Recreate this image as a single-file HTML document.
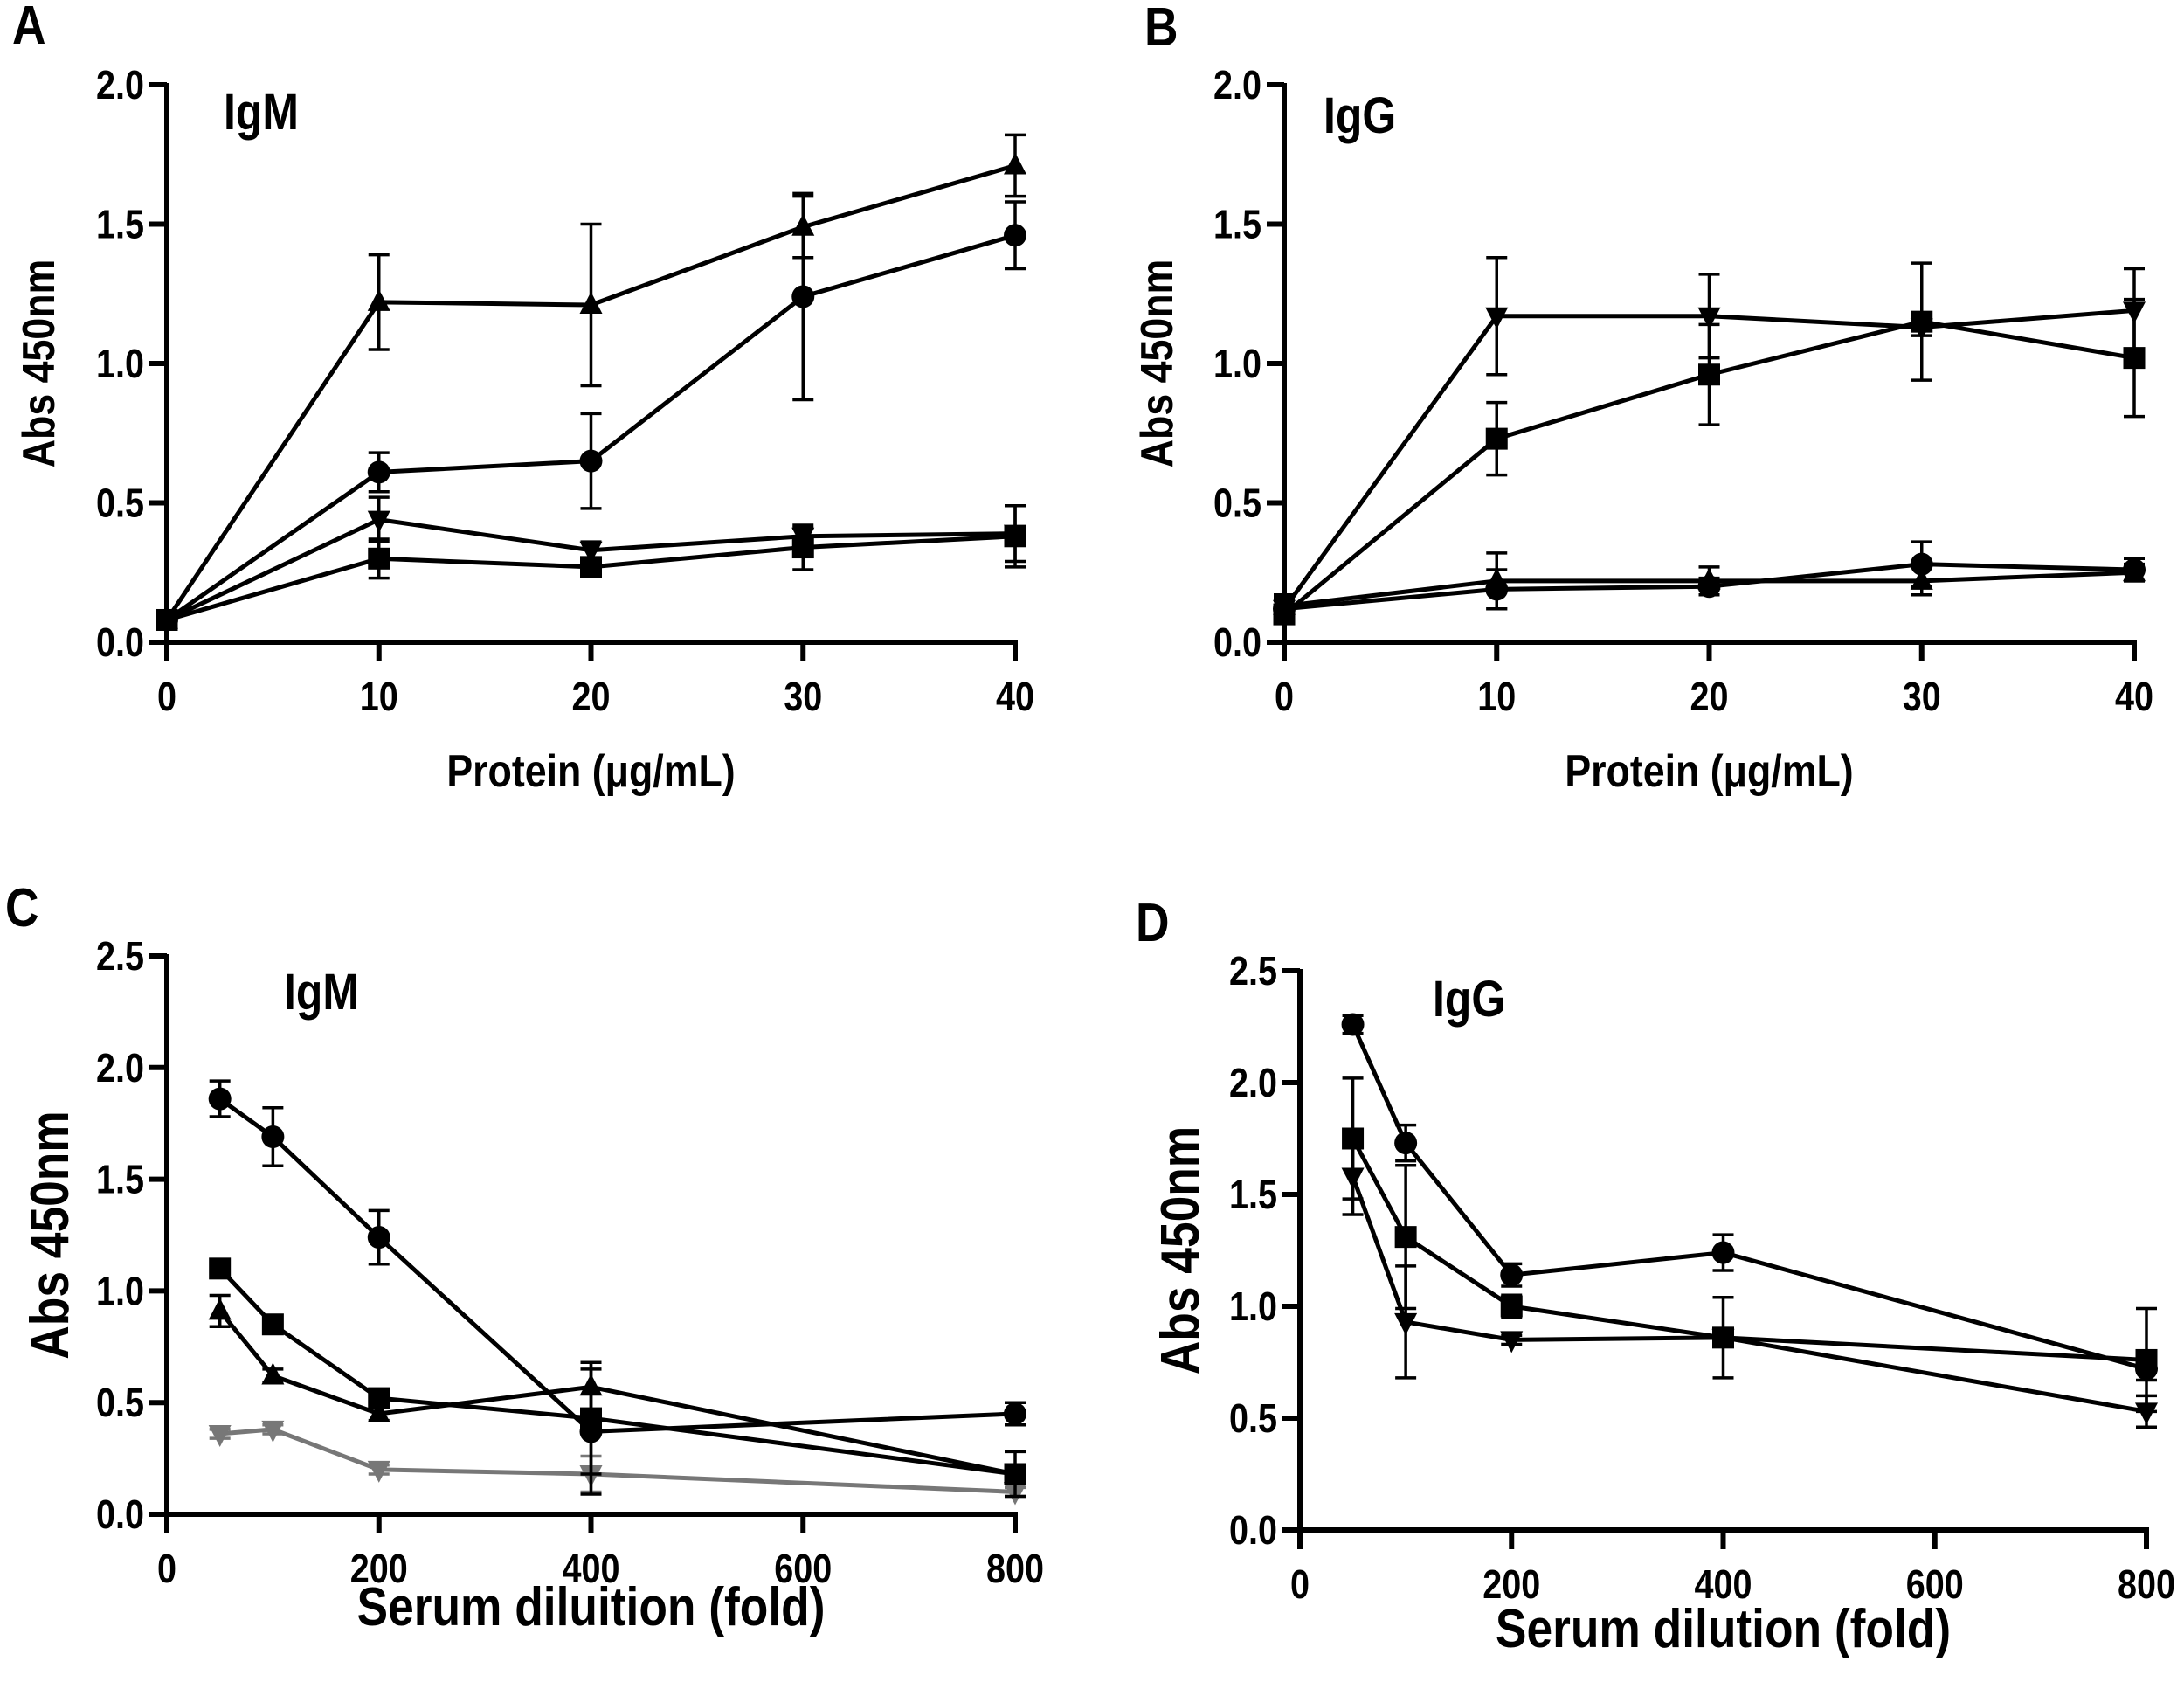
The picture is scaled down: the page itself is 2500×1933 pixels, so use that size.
<!DOCTYPE html>
<html><head><meta charset="utf-8"><style>
html,body{margin:0;padding:0;background:#fff}
svg{display:block}
text{font-family:"Liberation Sans",Arial,sans-serif;font-weight:bold;fill:#000}
</style></head><body>
<svg id="fig" width="2500" height="1933" viewBox="0 0 2500 1933" xmlns="http://www.w3.org/2000/svg"></svg>
<script>
// Panel A data (IgM, protein)
const xA = [0,10,20,30,40];
const aTriUp = [0.08,1.22,1.21,1.49,1.71];
const aTriUpErr = [0.02,0.17,0.29,0.11,0.11];
const aCircle = [0.08,0.61,0.65,1.24,1.46];
const aCircleErr = [0.02,0.07,0.17,0.37,0.12];
const aTriDown = [0.08,0.44,0.33,0.38,0.39];
const aTriDownErr = [0.02,0.08,0.03,0.03,0.10];
const aSquare = [0.08,0.30,0.27,0.34,0.38];
const aSquareErr = [0.02,0.07,0.03,0.08,0.11];
// Panel B data (IgG, protein)
const xB = [0,10,20,30,40];
const bTriDown = [0.12,1.17,1.17,1.13,1.19];
const bTriDownErr = [0.05,0.21,0.15,0.03,0.15];
const bSquare = [0.10,0.73,0.96,1.15,1.02];
const bSquareErr = [0.03,0.13,0.18,0.21,0.21];
const bCircle = [0.12,0.19,0.20,0.28,0.26];
const bCircleErr = [0.03,0.07,0.03,0.08,0.04];
const bTriUp = [0.13,0.22,0.22,0.22,0.25];
const bTriUpErr = [0.03,0.10,0.05,0.05,0.03];
// Panel C data (IgM, dilution)
const xC = [50,100,200,400,800];
const cCircle = [1.86,1.69,1.24,0.37,0.45];
const cCircleErr = [0.08,0.13,0.12,0.28,0.05];
const cSquare = [1.10,0.85,0.52,0.43,0.18];
const cSquareErr = [0.03,0.03,0.03,0.25,0.10];
const cTriUp = [0.91,0.62,0.45,0.57,0.18];
const cTriUpErr = [0.07,0.03,0.03,0.11,0.03];
const cTriDown = [0.36,0.38,0.20,0.18,0.10];
const cTriDownErr = [0.02,0.02,0.02,0.08,0.02];
// Panel D data (IgG, dilution)
const xD = [50,100,200,400,800];
const dCircle = [2.26,1.73,1.14,1.24,0.72];
const dCircleErr = [0.04,0.08,0.05,0.08,0.05];
const dSquare = [1.75,1.31,1.00,0.86,0.76];
const dSquareErr = [0.27,0.32,0.05,0.18,0.23];
const dTriDown = [1.58,0.93,0.85,0.86,0.53];
const dTriDownErr = [0.17,0.25,0.02,0.02,0.07];

const xTicksProtein = [0,10,20,30,40];
const xTicksDil = [0,200,400,600,800];
const yTicks2 = ["0.0","0.5","1.0","1.5","2.0"];
const yTicks25 = ["0.0","0.5","1.0","1.5","2.0","2.5"];

const NS='http://www.w3.org/2000/svg';
const svg=document.getElementById('fig');
function el(tag,attrs,parent){const e=document.createElementNS(NS,tag);for(const k in attrs)e.setAttribute(k,attrs[k]);(parent||svg).appendChild(e);return e;}
// condensed text: scale horizontally around anchor point
function ctext(parent,x,y,size,anchor,str,name,rot){
  const t=el('text',{x:0,y:0,'font-size':size,'text-anchor':anchor,
    transform:`translate(${x},${y})${rot?' rotate(-90)':''} scale(0.86,1)`},parent);
  t.textContent=str;
  return t;
}

function panel(cfg){
  const g=el('g',{});
  
  
  const sx=v=>cfg.x0+(v-cfg.xmin)/(cfg.xmax-cfg.xmin)*(cfg.x1-cfg.x0);
  const sy=v=>cfg.y0-(v-0)/(cfg.ymax)*(cfg.y0-cfg.y1);
  const ax=el('line',{x1:cfg.x0-3,y1:cfg.y0,x2:cfg.x1+3,y2:cfg.y0,stroke:'#000','stroke-width':6},g);
  
  
  const ay=el('line',{x1:cfg.x0,y1:cfg.y1-2,x2:cfg.x0,y2:cfg.y0+2,stroke:'#000','stroke-width':6},g);
  
  
  cfg.xticks.forEach(t=>{
    const x=sx(t);
    el('line',{x1:x,y1:cfg.y0,x2:x,y2:cfg.y0+22,stroke:'#000','stroke-width':6},g);
    const tx=ctext(g,x,cfg.y0+78,46,'middle',String(t));
    
    
  });
  cfg.yticks.forEach(t=>{
    const y=sy(parseFloat(t));
    el('line',{x1:cfg.x0-20,y1:y,x2:cfg.x0,y2:y,stroke:'#000','stroke-width':6},g);
    const tx=ctext(g,cfg.x0-26,y+16,46,'end',t);
    
    
  });
  const xt=ctext(g,(cfg.x0+cfg.x1)/2,cfg.xtitleY,cfg.xtitleSize,'middle',cfg.xtitle);
  
  
  const yt=ctext(g,cfg.ytitleX,(cfg.y0+cfg.y1)/2,cfg.ytitleSize,'middle','Abs 450nm',null,true);
  
  
  const it=ctext(g,cfg.isoX,cfg.isoY,58,'start',cfg.iso);
  
  
  const pl=ctext(g,cfg.letterX,cfg.letterY,62,'start',cfg.letter);
  
  
  cfg.series.forEach(s=>{
    const sg=el('g',{},g);
    
    
    const col=s.color||'#000';
    s.y.forEach((v,i)=>{
      const x=sx(cfg.xs[i]),e=s.err[i];
      const yt=sy(v+e),yb=sy(v-e);
      el('line',{x1:x,y1:yt,x2:x,y2:yb,stroke:col,'stroke-width':3.5},sg);
      el('line',{x1:x-12,y1:yt,x2:x+12,y2:yt,stroke:col,'stroke-width':3.5},sg);
      el('line',{x1:x-12,y1:yb,x2:x+12,y2:yb,stroke:col,'stroke-width':3.5},sg);
    });
    const pts=s.y.map((v,i)=>sx(cfg.xs[i])+','+sy(v)).join(' ');
    const ln=el('polyline',{points:pts,fill:'none',stroke:col,'stroke-width':5,'stroke-linejoin':'round'},sg);
    
    
    s.y.forEach((v,i)=>{
      const x=sx(cfg.xs[i]),y=sy(v);let m;
      if(s.m==='circle') m=el('circle',{cx:x,cy:y,r:13,fill:col},sg);
      else if(s.m==='square') m=el('rect',{x:x-12.5,y:y-12.5,width:25,height:25,fill:col},sg);
      else if(s.m==='up') m=el('polygon',{points:`${x},${y-15} ${x-13},${y+10} ${x+13},${y+10}`,fill:col},sg);
      else m=el('polygon',{points:`${x},${y+15} ${x-13},${y-10} ${x+13},${y-10}`,fill:col},sg);
      
      
    });
  });
}

panel({name:'panel-a',letter:'A',letterX:14,letterY:50,iso:'IgM',isoX:256,isoY:148,
  x0:191,x1:1162,xmin:0,xmax:40,y0:735,y1:97,ymax:2,xs:xA,xticks:xTicksProtein,yticks:yTicks2,
  xtitle:'Protein (μg/mL)',xtitleY:900,xtitleSize:52,ytitleX:62,ytitleSize:52,
  series:[{name:'triangle',m:'up',y:aTriUp,err:aTriUpErr},{name:'circle',m:'circle',y:aCircle,err:aCircleErr},
          {name:'inverted-triangle',m:'down',y:aTriDown,err:aTriDownErr},{name:'square',m:'square',y:aSquare,err:aSquareErr}]});
panel({name:'panel-b',letter:'B',letterX:1310,letterY:52,iso:'IgG',isoX:1515,isoY:152,
  x0:1470,x1:2443,xmin:0,xmax:40,y0:735,y1:97,ymax:2,xs:xB,xticks:xTicksProtein,yticks:yTicks2,
  xtitle:'Protein (μg/mL)',xtitleY:900,xtitleSize:52,ytitleX:1342,ytitleSize:52,
  series:[{name:'circle',m:'circle',y:bCircle,err:bCircleErr},{name:'triangle',m:'up',y:bTriUp,err:bTriUpErr},
          {name:'inverted-triangle',m:'down',y:bTriDown,err:bTriDownErr},{name:'square',m:'square',y:bSquare,err:bSquareErr}]});
panel({name:'panel-c',letter:'C',letterX:6,letterY:1060,iso:'IgM',isoX:325,isoY:1155,
  x0:191,x1:1162,xmin:0,xmax:800,y0:1733,y1:1094,ymax:2.5,xs:xC,xticks:xTicksDil,yticks:yTicks25,
  xtitle:'Serum diluition (fold)',xtitleY:1860,xtitleSize:62,ytitleX:78,ytitleSize:62,
  series:[{name:'inverted-triangle-grey',m:'down',y:cTriDown,err:cTriDownErr,color:'#777'},
          {name:'circle',m:'circle',y:cCircle,err:cCircleErr},{name:'square',m:'square',y:cSquare,err:cSquareErr},
          {name:'triangle',m:'up',y:cTriUp,err:cTriUpErr}]});
panel({name:'panel-d',letter:'D',letterX:1300,letterY:1077,iso:'IgG',isoX:1640,isoY:1163,
  x0:1488,x1:2457,xmin:0,xmax:800,y0:1751,y1:1111,ymax:2.5,xs:xD,xticks:xTicksDil,yticks:yTicks25,
  xtitle:'Serum dilution (fold)',xtitleY:1885,xtitleSize:62,ytitleX:1372,ytitleSize:62,
  series:[{name:'circle',m:'circle',y:dCircle,err:dCircleErr},{name:'square',m:'square',y:dSquare,err:dSquareErr},
          {name:'inverted-triangle',m:'down',y:dTriDown,err:dTriDownErr}]});
</script>
</body></html>
